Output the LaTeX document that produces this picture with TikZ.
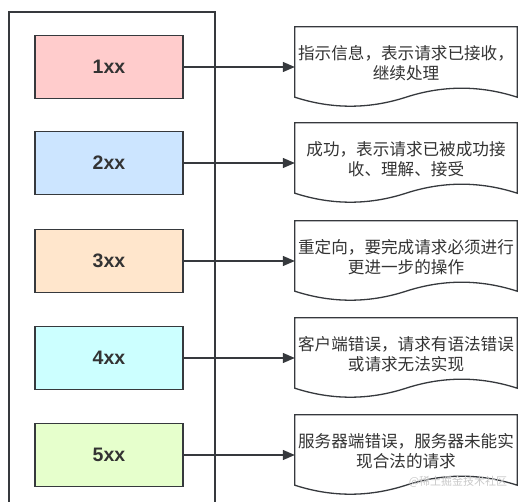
\documentclass[tikz,border=0pt]{standalone}
\usepackage{fontspec}
\setmainfont{Liberation Sans}
\newfontfamily\cjk{Noto Sans CJK SC}
\usetikzlibrary{calc,arrows.meta}
\definecolor{strokec}{HTML}{36393D}
\definecolor{txtc}{HTML}{333333}
\definecolor{f1}{HTML}{FFCCCC}
\definecolor{f2}{HTML}{CCE5FF}
\definecolor{f3}{HTML}{FFE6CC}
\definecolor{f4}{HTML}{CCFFFF}
\definecolor{f5}{HTML}{E6FFCC}
\definecolor{wm}{HTML}{C8C8C8}
\tikzset{
  codebox/.style={draw=strokec, line width=1.4pt, minimum width=148pt, minimum height=63pt,
    inner sep=0pt, font=\fontsize{19.5}{21}\selectfont\bfseries, text=txtc},
  docframe/.style={minimum width=222pt, minimum height=80pt, inner sep=0pt},
  doctext/.style={font=\cjk\fontsize{16.6}{20.5}\selectfont, text=txtc, align=center, inner sep=0pt},
  docline/.style={draw=strokec, line width=1.3pt},
  link/.style={draw=strokec, line width=1.3pt, -{Triangle[length=12pt,width=10pt]}},
}
\newcommand{\docshape}[1]{%
  \path[docline] (#1.north west) -- (#1.north east) -- ($(#1.south east)+(0,-10)$)
    .. controls ($(#1.south east)+(-37,-22)$) and ($(#1.south)+(37,-22)$) .. ($(#1.south)+(0,-10)$)
    .. controls ($(#1.south)+(-37,2)$) and ($(#1.south west)+(37,2)$) .. ($(#1.south west)+(0,-10)$)
    -- cycle;}
\begin{document}
\begin{tikzpicture}[x=1pt,y=-1pt]
\useasboundingbox (0,0) rectangle (522,502);
\begin{scope}
\clip (0,0) rectangle (522,502);
\draw[draw=strokec, line width=1.4pt] (9,12) rectangle (215,520);
\end{scope}
\node[codebox, fill=f1] (b1) at (109,67) {1xx};
\node[codebox, fill=f2] (b2) at (109,163) {2xx};
\node[codebox, fill=f3] (b3) at (109,261) {3xx};
\node[codebox, fill=f4] (b4) at (109,358) {4xx};
\node[codebox, fill=f5] (b5) at (109,455) {5xx};
\node[docframe] (d1) at (406,67) {};
\node[docframe] (d2) at (406,163) {};
\node[docframe] (d3) at (406,261) {};
\node[docframe] (d4) at (406,358) {};
\node[docframe] (d5) at (406,455) {};
\foreach \d in {d1,d2,d3,d4,d5} {\docshape{\d}}
\node[doctext] (t1) at (406,63) {指示信息，表示请求已接收，\\继续处理};
\node[doctext] (t2) at (406,159) {成功，表示请求已被成功接\\收、理解、接受};
\node[doctext] (t3) at (406,257) {重定向，要完成请求必须进行\\更进一步的操作};
\node[doctext] (t4) at (406,354) {客户端错误，请求有语法错误\\或请求无法实现};
\node[doctext] (t5) at (406,451) {服务器端错误，服务器未能实\\现合法的请求};
\node[font=\cjk\fontsize{11}{12}\selectfont, text=wm, inner sep=0pt] (wmk) at (458,482) {@稀土掘金技术社区};
\path[link] (b1.east) -- (d1.west);
\path[link] (b2.east) -- (d2.west);
\path[link] (b3.east) -- (d3.west);
\path[link] (b4.east) -- (d4.west);
\path[link] (b5.east) -- (d5.west);
\end{tikzpicture}
\end{document}
